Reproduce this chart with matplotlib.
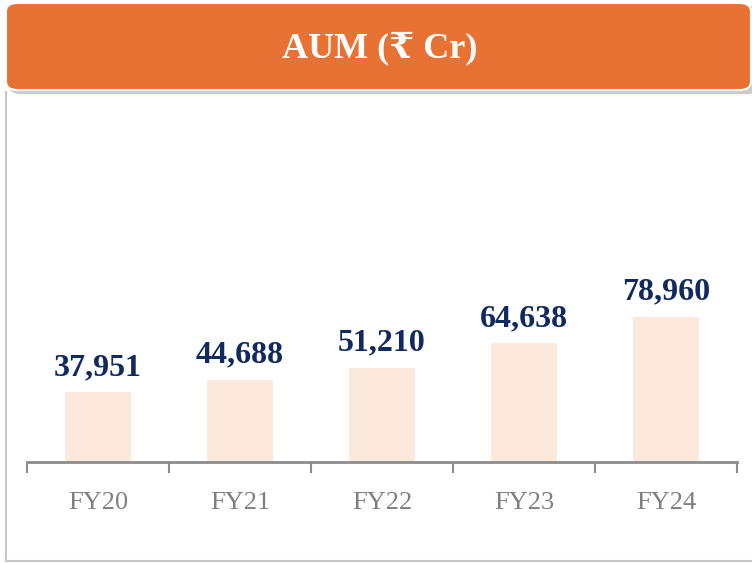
import matplotlib
matplotlib.use("Agg")
import matplotlib.pyplot as plt
from matplotlib.patches import FancyBboxPatch
from matplotlib.lines import Line2D

categories = ["FY20", "FY21", "FY22", "FY23", "FY24"]
values = [37951, 44688, 51210, 64638, 78960]
title = "AUM (₹ Cr)"

W, H = 752, 563
fig = plt.figure(figsize=(W/100, H/100), dpi=100)
fig.patch.set_facecolor("white")
serif = ["Liberation Serif", "DejaVu Serif", "DejaVu Sans"]

def fx(x): return x / W
def fy(y): return 1 - y / H

# gray frame lines (left and bottom)
fig.add_artist(Line2D([fx(5.5), fx(5.5)], [fy(92), fy(560)], color="#c9c9c9", lw=1.5))
fig.add_artist(Line2D([fx(5.5), fx(752)], [fy(560.5), fy(560.5)], color="#c9c9c9", lw=1.5))

# banner shadow
sh = FancyBboxPatch((fx(9), fy(94)), fx(752) - fx(9) + 0.01, fy(6) - fy(94),
                    boxstyle="round,pad=0,rounding_size=0.015", transform=fig.transFigure,
                    facecolor="#9a9a9a", edgecolor="none", alpha=0.5, zorder=1)
fig.add_artist(sh)
banner = FancyBboxPatch((fx(6), fy(90)), fx(751) - fx(6), fy(3) - fy(90),
                        boxstyle="round,pad=0,rounding_size=0.015", transform=fig.transFigure,
                        facecolor="#e87234", edgecolor="white", lw=1.5, zorder=2)
fig.add_artist(banner)
fig.text(fx(380), fy(48), title, color="white", fontsize=26, fontweight="bold",
         ha="center", va="center", family=serif, zorder=3)

# axes
ax_top = 100
ax_bottom = 461.5
ax = fig.add_axes([fx(27), fy(ax_bottom), fx(737) - fx(27), fy(ax_top) - fy(ax_bottom)])
ax.set_facecolor("none")
x = range(len(categories))
ax.bar(x, values, width=0.47, color="#fce9dc", zorder=2)
ax.set_xlim(-0.5, len(categories) - 0.5)
ax.set_ylim(0, 545 * (ax_bottom - ax_top))
for s in ["top", "right", "left"]:
    ax.spines[s].set_visible(False)
ax.spines["bottom"].set_color("#8c8c8c")
ax.spines["bottom"].set_linewidth(2)
ax.set_yticks([])
ax.set_xticks([i - 0.5 for i in range(len(categories) + 1)])
ax.set_xticklabels([])
ax.tick_params(axis="x", length=8, width=1.5, color="#8c8c8c")
ax.set_xticks(list(x), minor=True)
ax.set_xticklabels(categories, minor=True)
ax.tick_params(axis="x", which="minor", length=0, pad=22, labelsize=19, labelcolor="#7f7f7f")
for lbl in ax.get_xticklabels(minor=True):
    lbl.set_family(serif)

for i, v in enumerate(values):
    ax.annotate(f"{v:,}", (i, v), xytext=(0, 7), textcoords="offset points",
                ha="center", va="bottom", fontsize=23, fontweight="bold",
                color="#10295f", family=serif)

fig.savefig("out.png", dpi=100)
